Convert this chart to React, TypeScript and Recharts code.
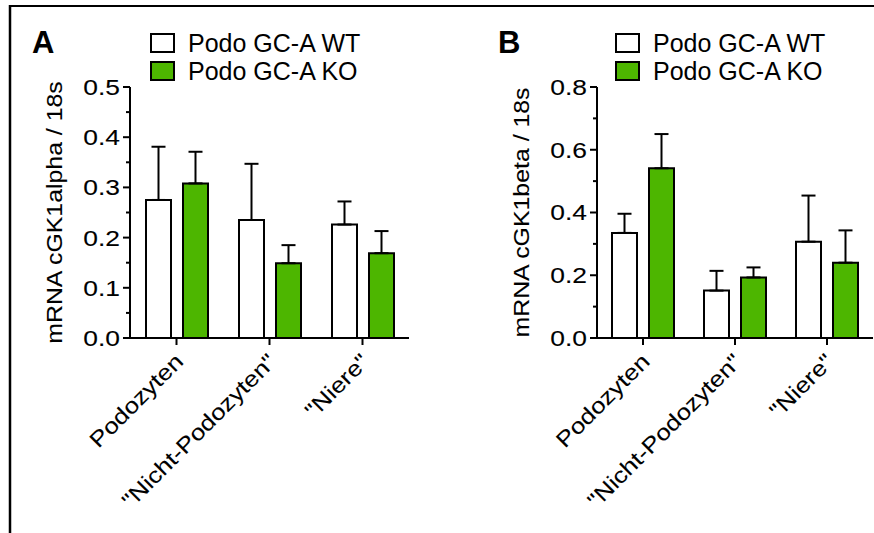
import { Bar, BarChart, ErrorBar, Legend, XAxis, YAxis } from "recharts";

const categories = ["Podozyten", '"Nicht-Podozyten"', '"Niere"'];
const seriesNames = ["Podo GC-A WT", "Podo GC-A KO"];

const alphaWT = [0.275, 0.235, 0.226];
const alphaWTsem = [0.106, 0.112, 0.046];
const alphaKO = [0.308, 0.149, 0.169];
const alphaKOsem = [0.063, 0.036, 0.044];

const betaWT = [0.335, 0.151, 0.307];
const betaWTsem = [0.061, 0.063, 0.147];
const betaKO = [0.541, 0.193, 0.24];
const betaKOsem = [0.109, 0.032, 0.103];

const alphaTicks = [0, 0.05, 0.1, 0.15, 0.2, 0.25, 0.3, 0.35, 0.4, 0.45, 0.5];
const betaTicks = [0, 0.1, 0.2, 0.3, 0.4, 0.5, 0.6, 0.7, 0.8];

const FONT = "'Liberation Sans', Arial, sans-serif";
const GREEN = "#4db600";

const YTick = (props: any) => {
  const { x, y, payload, index } = props;
  const axisX = x + 10;
  const major = index % 2 === 0;
  return (
    <g>
      <line x1={axisX - (major ? 7 : 4)} x2={axisX} y1={y} y2={y} stroke="#000" strokeWidth={2} />
      {major && (
        <text
          transform={`translate(${x},${y}) scale(1.2,1)`}
          textAnchor="end"
          dy="0.36em"
          fontSize={22}
          fontFamily={FONT}
          fill="#000"
          stroke="#000"
          strokeWidth={0.1}
        >
          {payload.value.toFixed(1)}
        </text>
      )}
    </g>
  );
};

const XTick = (props: any) => {
  const { x, y, payload } = props;
  return (
    <text
      transform={`translate(${x + 8},${y + 18}) rotate(-45) scale(1.17,1)`}
      textAnchor="end"
      fontSize={22}
      fontFamily={FONT}
      fill="#000"
      stroke="#000"
      strokeWidth={0.1}
    >
      {payload.value}
    </text>
  );
};

const YTitle = (props: any) => {
  const { viewBox, value } = props;
  const x = viewBox.x + viewBox.width - 68;
  const y = viewBox.y + viewBox.height / 2;
  return (
    <text
      transform={`translate(${x},${y}) rotate(-90) scale(1.13,1)`}
      textAnchor="middle"
      fontSize={22}
      fontFamily={FONT}
      fill="#000"
      stroke="#000"
      strokeWidth={0.1}
    >
      {value}
    </text>
  );
};

const LegendBox = (props: any) => {
  const items = [...(props.payload || [])].sort(
    (a: any, b: any) => seriesNames.indexOf(a.value) - seriesNames.indexOf(b.value)
  );
  return (
    <div style={{ fontFamily: FONT }}>
      {items.map((e: any) => (
        <div key={e.value} style={{ display: "flex", alignItems: "center", height: 28 }}>
          <span
            style={{
              width: 21,
              height: 16,
              border: "2px solid #000",
              background: (e.payload && e.payload.fill) || e.color,
              marginRight: 13,
            }}
          />
          <span style={{ fontSize: 25, color: "#000" }}>{e.value}</span>
        </div>
      ))}
    </div>
  );
};

type PanelProps = {
  left: number;
  width: number;
  marginLeft: number;
  marginRight: number;
  legendLeft: number;
  yLabel: string;
  ticks: number[];
  wt: number[];
  wtSem: number[];
  ko: number[];
  koSem: number[];
};

const Panel = ({ left, width, marginLeft, marginRight, legendLeft, yLabel, ticks, wt, wtSem, ko, koSem }: PanelProps) => {
  const data = categories.map((name, i) => ({
    name,
    wt: wt[i],
    wtErr: [0, wtSem[i]],
    ko: ko[i],
    koErr: [0, koSem[i]],
  }));
  return (
    <div style={{ position: "absolute", left, top: 0 }}>
      <BarChart
        width={width}
        height={533}
        data={data}
        margin={{ top: 87, right: marginRight, left: marginLeft, bottom: 45 }}
        barSize={25}
        barGap={12}
      >
        <XAxis
          dataKey="name"
          interval={0}
          height={150}
          tickSize={7}
          tickMargin={0}
          axisLine={{ stroke: "#000", strokeWidth: 2 }}
          tickLine={{ stroke: "#000", strokeWidth: 2 }}
          tick={<XTick />}
        />
        <YAxis
          type="number"
          domain={[0, ticks[ticks.length - 1]]}
          ticks={ticks}
          interval={0}
          width={60}
          tickSize={7}
          tickMargin={3}
          tickLine={false}
          axisLine={{ stroke: "#000", strokeWidth: 2 }}
          tick={<YTick />}
          allowDataOverflow
          label={<YTitle value={yLabel} />}
        />
        <Legend
          layout="vertical"
          align="center"
          verticalAlign="middle"
          content={<LegendBox />}
          wrapperStyle={{ left: legendLeft, top: 29, width: 260 }}
        />
        <Bar dataKey="wt" name={seriesNames[0]} fill="#ffffff" stroke="#000" strokeWidth={2} isAnimationActive={false}>
          <ErrorBar dataKey="wtErr" width={7} stroke="#000" strokeWidth={2} direction="y" isAnimationActive={false} />
        </Bar>
        <Bar dataKey="ko" name={seriesNames[1]} fill={GREEN} stroke="#000" strokeWidth={2} isAnimationActive={false}>
          <ErrorBar dataKey="koErr" width={7} stroke="#000" strokeWidth={2} direction="y" isAnimationActive={false} />
        </Bar>
      </BarChart>
    </div>
  );
};

export default function App() {
  return (
    <div
      style={{
        position: "absolute",
        left: 0,
        top: 0,
        width: 874,
        height: 533,
        background: "#fff",
        overflow: "hidden",
        fontFamily: FONT,
      }}
    >
      <Panel
        left={0}
        width={440}
        marginLeft={70}
        marginRight={31}
        legendLeft={150}
        yLabel="mRNA cGK1alpha / 18s"
        ticks={alphaTicks}
        wt={alphaWT}
        wtSem={alphaWTsem}
        ko={alphaKO}
        koSem={alphaKOsem}
      />
      <Panel
        left={440}
        width={434}
        marginLeft={97}
        marginRight={1}
        legendLeft={175}
        yLabel="mRNA cGK1beta / 18s"
        ticks={betaTicks}
        wt={betaWT}
        wtSem={betaWTsem}
        ko={betaKO}
        koSem={betaKOsem}
      />
      <svg width={874} height={533} style={{ position: "absolute", left: 0, top: 0, pointerEvents: "none" }}>
        <line x1={10} y1={6} x2={874} y2={6} stroke="#000" strokeWidth={2} />
        <line x1={10} y1={5} x2={10} y2={533} stroke="#000" strokeWidth={2.5} />
        <text x={32} y={53} fontSize={31} fontWeight="bold" fontFamily={FONT} fill="#000">
          A
        </text>
        <text x={498} y={53} fontSize={31} fontWeight="bold" fontFamily={FONT} fill="#000">
          B
        </text>
      </svg>
    </div>
  );
}
